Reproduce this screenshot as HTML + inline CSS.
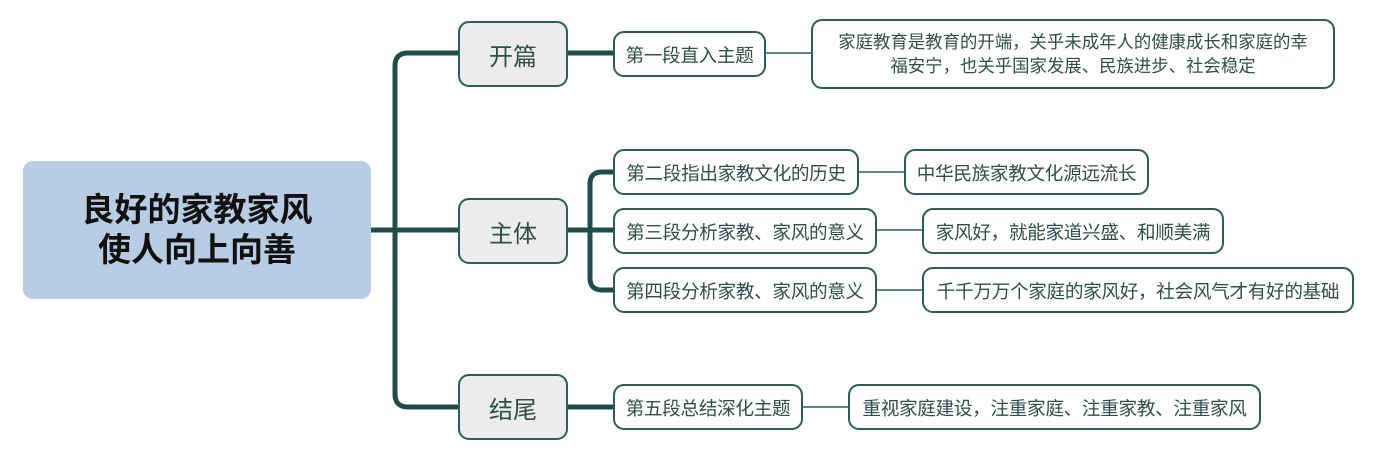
<!DOCTYPE html>
<html><head><meta charset="utf-8"><style>
body{margin:0;width:1384px;height:450px;background:#fff;position:relative;overflow:hidden;font-family:"Liberation Sans","Noto Sans CJK SC",sans-serif;}
.b{position:absolute;box-sizing:border-box;display:flex;align-items:center;justify-content:center;text-align:center;color:#2f4f4a;white-space:nowrap;}
.root{left:23px;top:161px;width:348px;height:138px;background:#b8cce4;border-radius:10px;font-size:33px;font-weight:bold;color:#111;line-height:40px;}
.l1{width:110px;height:66px;background:#ececec;border:2px solid #2d5e59;border-radius:11px;font-size:24px;left:458px;}
.l2{border:2px solid #2d5e59;border-radius:11px;background:#fff;font-size:18.6px;height:46px;letter-spacing:-0.3px;}
svg{position:absolute;left:0;top:0;}
</style></head><body>
<svg width="1384" height="450">
<g fill="none" stroke="#1f4e4a" stroke-width="5">
<path d="M371 230 H458"/>
<path d="M458 53 H408 Q395 53 395 66 V394 Q395 407 408 407 H458"/>
<path d="M568 53 H613"/>
<path d="M568 407 H613"/>
<path d="M568 230 H613"/>
<path d="M613 172 H602 Q590 172 590 184 V278 Q590 290 602 290 H613"/>
</g>
<g stroke="#2d5e59" stroke-width="1.5">
<path d="M766 53 H811"/><path d="M859 172 H904"/><path d="M877 230 H922"/><path d="M877 290 H922"/><path d="M803 407 H848"/>
</g>
</svg>
<div class="b root">良好的家教家风<br>使人向上向善</div>
<div class="b l1" style="top:21px">开篇</div>
<div class="b l1" style="top:198px">主体</div>
<div class="b l1" style="top:374px">结尾</div>
<div class="b l2" style="left:613px;top:31px;width:153px">第一段直入主题</div>
<div class="b l2" style="left:613px;top:149px;width:246px">第二段指出家教文化的历史</div>
<div class="b l2" style="left:613px;top:208px;width:264px">第三段分析家教、家风的意义</div>
<div class="b l2" style="left:613px;top:267px;width:264px">第四段分析家教、家风的意义</div>
<div class="b l2" style="left:613px;top:384px;width:190px">第五段总结深化主题</div>
<div class="b l2" style="left:811px;top:19px;width:524px;height:70px;line-height:24px;font-size:17.4px;letter-spacing:0">家庭教育是教育的开端，关乎未成年人的健康成长和家庭的幸<br>福安宁，也关乎国家发展、民族进步、社会稳定</div>
<div class="b l2" style="left:904px;top:149px;width:245px">中华民族家教文化源远流长</div>
<div class="b l2" style="left:922px;top:208px;width:302px">家风好，就能家道兴盛、和顺美满</div>
<div class="b l2" style="left:922px;top:267px;width:432px">千千万万个家庭的家风好，社会风气才有好的基础</div>
<div class="b l2" style="left:848px;top:384px;width:413px">重视家庭建设，注重家庭、注重家教、注重家风</div>
</body></html>
